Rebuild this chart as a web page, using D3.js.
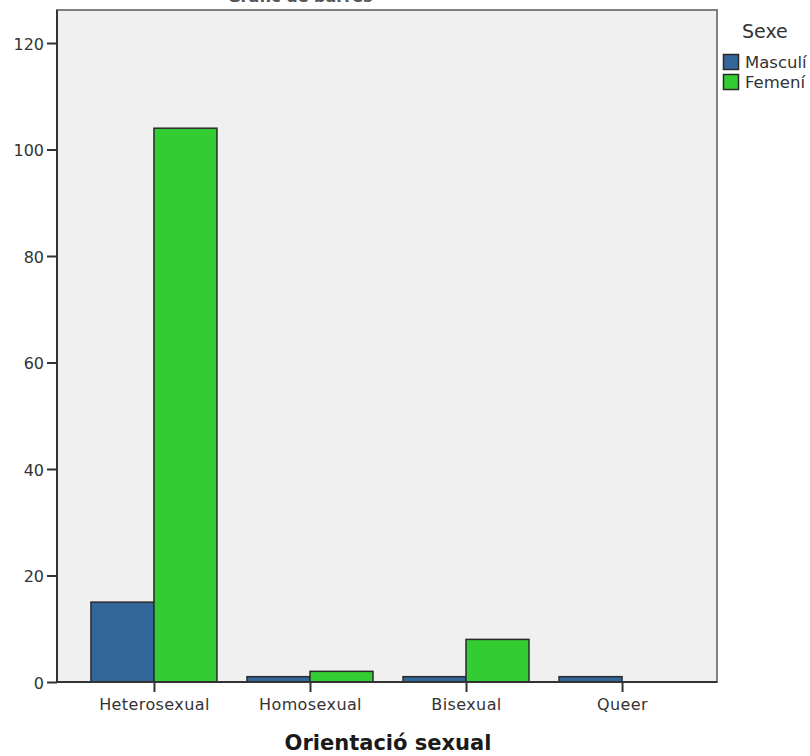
<!DOCTYPE html>
<html><head><meta charset="utf-8">
<script src="https://cdn.jsdelivr.net/npm/d3@7"></script>
<style>body{margin:0;background:#fff}svg{display:block}</style>
</head><body>
<script>
const categories = ["Heterosexual", "Homosexual", "Bisexual", "Queer"];
const seriesNames = ["Masculí", "Femení"];
const masculi = [15, 1, 1, 1];
const femeni = [104, 2, 8, 0];
const yTicks = [0, 20, 40, 60, 80, 100, 120];
const colors = ["#336699", "#33cc33"];

(function () {
const W = 810, H = 756;
const pL = 57, pR = 717, pT = 10, pB = 682;
const svg = d3.select("body").append("svg").attr("width", W).attr("height", H);

const y = d3.scaleLinear().domain([0, 120]).range([pB, 43]);
const x = d3.scalePoint().domain(categories).range([pL + 1, pR + 1]).padding(0.615);
const bw = 63;

// title (cut off at top, as in the reference)
svg.append("text").attr("x", 300).attr("y", 1.5).attr("text-anchor", "middle")
  .attr("font-family", "DejaVu Sans").attr("font-weight", "bold").attr("font-size", 16)
  .attr("fill", "#555").text("Gràfic de barres");

// plot background
svg.append("rect").attr("x", pL).attr("y", pT).attr("width", pR - pL).attr("height", pB - pT)
  .attr("fill", "#f0f0f0");

// bars
const data = [];
categories.forEach((c, i) => {
  data.push({c, s: 0, v: masculi[i]});
  data.push({c, s: 1, v: femeni[i]});
});
svg.append("g").selectAll("rect").data(data.filter(d => d.v > 0)).join("rect")
  .attr("x", d => x(d.c) + (d.s === 0 ? -bw : 0))
  .attr("y", d => y(d.v))
  .attr("width", bw)
  .attr("height", d => y(0) - y(d.v))
  .attr("fill", d => colors[d.s])
  .attr("stroke", "#2a2a2a").attr("stroke-width", 1.5);

// frame
svg.append("rect").attr("x", pL).attr("y", pT).attr("width", pR - pL).attr("height", pB - pT)
  .attr("fill", "none").attr("stroke", "#808080").attr("stroke-width", 2);

// y axis
const yAxis = svg.append("g").attr("transform", `translate(${pL},0)`)
  .call(d3.axisLeft(y).tickValues(yTicks).tickSize(10).tickPadding(3).tickSizeOuter(0));
yAxis.select(".domain").attr("stroke", "#333").attr("stroke-width", 2).attr("d", `M0,${pT}V${pB}`);
yAxis.selectAll(".tick line").attr("stroke", "#333").attr("stroke-width", 2);
yAxis.selectAll(".tick text").attr("font-family", "DejaVu Sans").attr("font-size", 16)
  .attr("fill", "#333").attr("dy", "0.4em");

// x axis
const xAxis = svg.append("g").attr("transform", `translate(0,${pB})`)
  .call(d3.axisBottom(x).tickSize(10).tickPadding(7).tickSizeOuter(0));
xAxis.select(".domain").attr("stroke", "#333").attr("stroke-width", 2).attr("d", `M${pL},0H${pR}`);
xAxis.selectAll(".tick line").attr("stroke", "#333").attr("stroke-width", 2);
xAxis.selectAll(".tick text").attr("font-family", "DejaVu Sans").attr("font-size", 16)
  .attr("letter-spacing", 0.4).attr("fill", "#333");

// x axis title
svg.append("text").attr("x", 388).attr("y", 750).attr("text-anchor", "middle")
  .attr("font-family", "DejaVu Sans").attr("font-weight", "bold").attr("font-size", 21)
  .attr("fill", "#1a1a1a").text("Orientació sexual");

// legend
const lg = svg.append("g");
lg.append("text").attr("x", 742).attr("y", 38).attr("font-family", "DejaVu Sans")
  .attr("font-size", 19).attr("fill", "#333").text("Sexe");
seriesNames.forEach((n, i) => {
  lg.append("rect").attr("x", 723.5).attr("y", 54.5 + i * 20).attr("width", 15).attr("height", 15)
    .attr("fill", colors[i]).attr("stroke", "#2a2a2a").attr("stroke-width", 1.5);
  lg.append("text").attr("x", 745).attr("y", 68 + i * 20).attr("font-family", "DejaVu Sans")
    .attr("font-size", 16.5).attr("fill", "#333").text(n);
});
})();
</script>
</body></html>
